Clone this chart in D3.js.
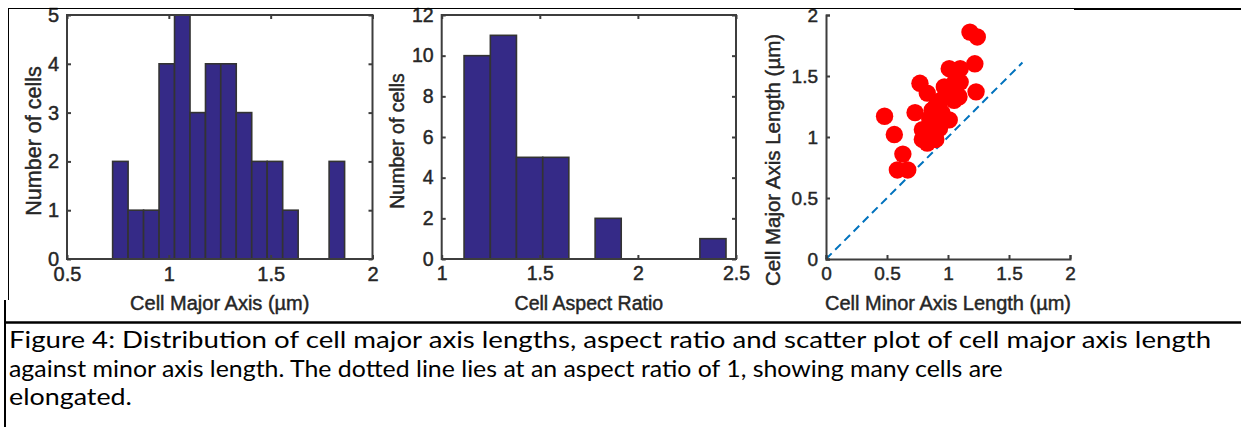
<!DOCTYPE html>
<html lang="en">
<head>
  <meta charset="UTF-8">
  <title>Figure 4 - cell axis lengths</title>
  <script src="https://d3js.org/d3.v7.min.js"></script>
  <style>
    body {
      margin: 0;
      background: #fff;
    }
    svg text {
      font-family: "Liberation Sans", Arial, sans-serif;
      fill: #262626;
      stroke: #262626;
      stroke-width: 0.45px;
    }
    .axis path, .axis line {
      stroke: #3d3d3d;
      stroke-width: 2px;
    }
    .caption text {
      font-family: Lato, "Open Sans", sans-serif;
      fill: #000;
      stroke: none;
    }
  </style>
</head>
<body>
  <svg width="1241" height="427"></svg>
  <script>
    // histogram 1: cell major axis
    const majorEdges = [0.724, 0.800, 0.876, 0.952, 1.028, 1.104, 1.180, 1.255,
      1.331, 1.407, 1.483, 1.559, 1.635, 1.711, 1.787, 1.863];
    const majorCounts = [2, 1, 1, 4, 5, 3, 4, 4, 3, 2, 2, 1, 0, 0, 2];
    const majorXTicks = [0.5, 1, 1.5, 2];
    const majorYTicks = [0, 1, 2, 3, 4, 5];

    // histogram 2: aspect ratio
    const ratioEdges = [1.114, 1.248, 1.381, 1.515, 1.648, 1.782, 1.915, 2.049, 2.182, 2.316, 2.449];
    const ratioCounts = [10, 11, 5, 5, 0, 2, 0, 0, 0, 1];
    const ratioXTicks = [1, 1.5, 2, 2.5];
    const ratioYTicks = [0, 2, 4, 6, 8, 10, 12];

    // scatter: minor vs major axis
    const minorLen = [0.48, 0.56, 0.63, 0.585, 0.67, 0.77, 0.73, 0.83, 0.79, 0.79, 0.88, 0.87,
      0.94, 1.01, 0.97, 1.01, 1.10, 1.09, 1.05, 1.22, 1.23, 1.18, 1.24, 0.91, 0.83, 0.93,
      0.85, 0.90, 0.95, 1.00, 1.05, 0.82, 0.90, 1.10];
    const majorLen = [1.17, 1.02, 0.86, 0.73, 0.73, 1.44, 1.20, 1.36, 0.98, 1.06, 1.03, 1.22,
      1.30, 1.14, 1.41, 1.56, 1.56, 1.33, 1.44, 1.60, 1.37, 1.86, 1.82, 1.19, 0.95, 1.07,
      1.15, 1.25, 1.20, 1.35, 1.30, 1.05, 0.98, 1.45];
    const unityLine = [0, 1.61];
    const scatterTicks = [0, 0.5, 1, 1.5, 2];

    const captionLines = [
      "Figure 4: Distribution of cell major axis lengths, aspect ratio and scatter plot of cell major axis length",
      "against minor axis length. The dotted line lies at an aspect ratio of 1, showing many cells are",
      "elongated."
    ];
    // width each caption line takes in the original (Calibri)
    const captionWidths = [1203, 994, 123];

    const svg = d3.select("svg");
    const plotTop = 15, plotBottom = 259;
    const fmt = d3.format("");

    function styleAxis(g) {
      g.attr("class", "axis");
      g.select(".domain").remove();
    }

    function histogram(left, right, edges, counts, xDom, xTicks, yDom, yTicks, fs, labelFs, xLabel, yLabelX) {
      const x = d3.scaleLinear().domain(xDom).range([left, right]);
      const y = d3.scaleLinear().domain(yDom).range([plotBottom, plotTop]);
      const bins = counts.map((c, i) => ({ x0: edges[i], x1: edges[i + 1], n: c }));

      svg.append("g").selectAll("rect")
        .data(bins.filter(b => b.n > 0))
        .enter()
        .append("rect")
        .attr("x", d => x(d.x0))
        .attr("y", d => y(d.n))
        .attr("width", d => x(d.x1) - x(d.x0))
        .attr("height", d => y(0) - y(d.n))
        .attr("fill", "#352a87")
        .attr("stroke", "#333")
        .attr("stroke-width", 1.6);

      // inward ticks on all four sides
      svg.append("g").attr("transform", `translate(0,${plotBottom})`)
        .call(d3.axisBottom(x).tickValues(xTicks).tickSize(-4).tickPadding(7.5).tickFormat(fmt))
        .call(styleAxis)
        .selectAll("text").style("font-size", fs + "px");
      svg.append("g").attr("transform", `translate(0,${plotTop})`)
        .call(d3.axisTop(x).tickValues(xTicks).tickSize(-4).tickFormat(""))
        .call(styleAxis);
      svg.append("g").attr("transform", `translate(${left},0)`)
        .call(d3.axisLeft(y).tickValues(yTicks).tickSize(-4).tickPadding(8).tickFormat(fmt))
        .call(styleAxis)
        .selectAll("text").style("font-size", fs + "px");
      svg.append("g").attr("transform", `translate(${right},0)`)
        .call(d3.axisRight(y).tickValues(yTicks).tickSize(-4).tickFormat(""))
        .call(styleAxis);

      svg.append("rect")
        .attr("x", left).attr("y", plotTop)
        .attr("width", right - left).attr("height", plotBottom - plotTop)
        .attr("fill", "none")
        .attr("stroke", "#3d3d3d")
        .attr("stroke-width", 2);

      svg.append("text")
        .attr("x", (left + right) / 2).attr("y", 310)
        .attr("text-anchor", "middle")
        .style("font-size", fs + "px")
        .text(xLabel);
      svg.append("text")
        .attr("transform", `translate(${yLabelX},${(plotTop + plotBottom) / 2 + 4}) rotate(-90)`)
        .attr("text-anchor", "middle")
        .attr("dy", "0.35em")
        .style("font-size", labelFs + "px")
        .text("Number of cells");
    }

    histogram(67, 372.5, majorEdges, majorCounts, [0.5, 2], majorXTicks, [0, 5], majorYTicks, 20, 21.5,
      "Cell Major Axis (\u00b5m)", 33);
    histogram(441.7, 736, ratioEdges, ratioCounts, [1, 2.5], ratioXTicks, [0, 12], ratioYTicks, 19.5, 19.5,
      "Cell Aspect Ratio", 397);

    // scatter panel
    const sx = d3.scaleLinear().domain([0, 2]).range([826, 1070]);
    const sy = d3.scaleLinear().domain([0, 2]).range([plotBottom, plotTop]);

    svg.append("line")
      .attr("x1", sx(unityLine[0])).attr("y1", sy(unityLine[0]))
      .attr("x2", sx(unityLine[1])).attr("y2", sy(unityLine[1]))
      .attr("stroke", "#0072bd")
      .attr("stroke-width", 2)
      .attr("stroke-dasharray", "8,5");

    svg.append("g").selectAll("circle")
      .data(minorLen.map((m, i) => [m, majorLen[i]]))
      .enter()
      .append("circle")
      .attr("cx", d => sx(d[0]))
      .attr("cy", d => sy(d[1]))
      .attr("r", 8.7)
      .attr("fill", "#ff0000");

    svg.append("g").attr("transform", `translate(0,${plotBottom})`)
      .call(d3.axisBottom(sx).tickValues(scatterTicks).tickSize(-4).tickPadding(7.5).tickFormat(fmt))
      .call(g => g.attr("class", "axis"))
      .selectAll("text").style("font-size", "19px");
    svg.append("g").attr("transform", `translate(826,0)`)
      .call(d3.axisLeft(sy).tickValues(scatterTicks).tickSize(-4).tickPadding(8).tickFormat(fmt))
      .call(g => g.attr("class", "axis"))
      .selectAll("text").style("font-size", "19px");

    svg.append("text")
      .attr("x", (826 + 1070) / 2).attr("y", 310)
      .attr("text-anchor", "middle")
      .style("font-size", "20px")
      .text("Cell Minor Axis Length (\u00b5m)");
    svg.append("text")
      .attr("transform", `translate(773,160) rotate(-90)`)
      .attr("text-anchor", "middle")
      .attr("dy", "0.35em")
      .style("font-size", "20.5px")
      .text("Cell Major Axis Length (\u00b5m)");

    // frame lines around the picture and the caption cell
    const frame = svg.append("g").attr("stroke", "#000").attr("fill", "none");
    frame.append("line").attr("x1", 8).attr("y1", 8.5).attr("x2", 1074).attr("y2", 8.5).attr("stroke-width", 1);
    frame.append("line").attr("x1", 1074).attr("y1", 9).attr("x2", 1241).attr("y2", 9).attr("stroke-width", 2);
    frame.append("line").attr("x1", 8.5).attr("y1", 8).attr("x2", 8.5).attr("y2", 300).attr("stroke-width", 1);
    frame.append("line").attr("x1", 5).attr("y1", 300).attr("x2", 5).attr("y2", 427).attr("stroke-width", 2);
    frame.append("line").attr("x1", 4).attr("y1", 322.5).attr("x2", 1241).attr("y2", 322.5).attr("stroke-width", 2.5);

    // caption, each line squeezed to the width the original font takes
    const cap = svg.append("g").attr("class", "caption");
    cap.selectAll("text")
      .data(captionLines)
      .enter()
      .append("text")
      .style("font-size", "22.5px")
      .text(d => d)
      .attr("transform", function (d, i) {
        const w = this.getComputedTextLength();
        return `translate(9,${348 + i * 28.5}) scale(${captionWidths[i] / w},1)`;
      });
  </script>
</body>
</html>
